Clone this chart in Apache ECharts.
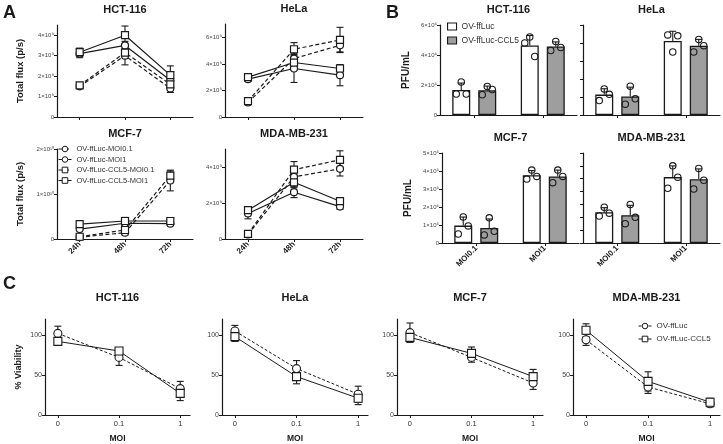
<!DOCTYPE html>
<html>
<head>
<meta charset="utf-8">
<script src="https://cdn.jsdelivr.net/npm/echarts@6/dist/echarts.min.js"></script>
<style>
  html, body { margin: 0; padding: 0; background: #fff; }
  #chart { width: 723px; height: 444px; }
</style>
</head>
<body>
<div id="chart"></div>
<script>
// ---------- data ----------
// A: total flux, units of 1e9 p/s; rows follow fluxSeries, columns follow hours
const hours = ['24h', '48h', '72h']
const fluxSeries = ['OV-ffLuc-MOI0.1', 'OV-ffLuc-MOI1', 'OV-ffLuc-CCL5-MOI0.1', 'OV-ffLuc-CCL5-MOI1']

const fluxHCT116 = [[1.5, 3.0, 1.4], [3.1, 3.5, 1.8], [1.55, 3.15, 1.6], [3.17, 4.0, 2.05]]
const fluxSdHCT116 = [[0.1, 0.45, 0.2], [0.2, 0.2, 0.2], [0.1, 0.2, 0.25], [0.2, 0.45, 0.45]]
const fluxHeLa = [[1.1, 4.4, 5.4], [2.85, 3.65, 3.15], [1.2, 5.1, 5.8], [3.0, 4.1, 3.65]]
const fluxSdHeLa = [[0.1, 0.4, 0.5], [0.15, 1.05, 0.8], [0.1, 0.5, 0.95], [0.15, 0.4, 0.2]]
const fluxMCF7 = [[0.4, 1.4, 13.0], [2.2, 3.5, 3.4], [0.5, 2.0, 14.1], [3.3, 4.0, 4.0]]
const fluxSdMCF7 = [[0.2, 0.5, 2.3], [0.3, 0.5, 0.3], [0.2, 0.5, 1.0], [0.3, 0.8, 0.3]]
const fluxMDA = [[0.25, 3.45, 3.9], [1.42, 2.6, 1.8], [0.28, 3.85, 4.4], [1.6, 3.15, 2.1]]
const fluxSdMDA = [[0.05, 0.4, 0.4], [0.3, 0.3, 0.15], [0.05, 0.45, 0.5], [0.15, 0.3, 0.15]]

// B: PFU/mL replicates, units of 1e6; [MOI0.1 reps, MOI1 reps]
const moiBar = ['MOI0.1', 'MOI1']
const virusNames = ['OV-ffLuc', 'OV-ffLuc-CCL5']

const pfuHCT116 = [[[2.2, 1.4, 1.4], [5.2, 4.8, 3.9]], [[1.9, 1.35, 1.7], [4.9, 4.3, 4.5]]]
const pfuHeLa = [[[1.45, 0.8, 1.15], [3.5, 4.45, 4.4]], [[1.6, 0.6, 0.9], [4.2, 3.5, 3.85]]]
const pfuMCF7 = [[[1.45, 0.5, 0.95], [4.05, 3.55, 3.7]], [[1.4, 0.45, 0.65], [4.05, 3.35, 3.7]]]
const pfuMDA = [[[1.39, 1.05, 1.16], [3.0, 2.13, 2.56]], [[1.5, 0.75, 1.0], [2.9, 2.1, 2.44]]]

// C: % viability; rows follow virusNames, columns follow moiLine
const moiLine = ['0', '0.1', '1']
const viabHCT116 = [[102, 72, 33], [92, 80, 27]]
const viabSdHCT116 = [[9, 10, 9], [5, 3, 9]]
const viabHeLa = [[105, 58, 26], [98, 48, 21]]
const viabSdHeLa = [[7, 10, 10], [6, 9, 8]]
const viabMCF7 = [[103, 72, 40], [97, 77, 48]]
const viabSdMCF7 = [[12, 6, 8], [6, 8, 9]]
const viabMDA = [[94, 35, 14], [106, 42, 16]]
const viabSdMDA = [[7, 8, 4], [8, 12, 5]]

// ---------- helpers ----------
const fontFamily = '"Liberation Sans", Arial, sans-serif'
const ink = '#1a1a1a'
const supDigits = { 0: '⁰', 1: '¹', 2: '²', 3: '³', 4: '⁴', 5: '⁵', 6: '⁶', 7: '⁷', 8: '⁸', 9: '⁹' }

const sciLabel = (v) => {
  if (v === 0) return '0'
  const e = Math.floor(Math.log10(v) + 1e-9)
  const m = Math.round(v / Math.pow(10, e))
  return m + '×10' + String(e).split('').map(c => supDigits[c]).join('')
}

const range = (from, to, step) => {
  const out = []
  for (let v = from; v <= to + step / 1000; v += step) out.push(+v.toPrecision(6))
  return out
}

const mean = arr => arr.reduce((a, b) => a + b, 0) / arr.length
const sdev = arr => {
  const m = mean(arr)
  return Math.sqrt(arr.reduce((a, b) => a + (b - m) * (b - m), 0) / (arr.length - 1))
}

const BAR_WIDTH = 18
const BAR_GAP = 8
const groupShift = g => (g === 0 ? -1 : 1) * (BAR_WIDTH + BAR_GAP) / 2
const jitter = [0, -5, 5]

const errorBar = (capWidth, upOnly, withGroup) => (params, api) => {
  const shift = withGroup ? groupShift(api.value(3)) : 0
  const m = api.value(1)
  const sd = api.value(2)
  const hi = api.coord([api.value(0), m + sd])
  const lo = api.coord([api.value(0), upOnly ? m : m - sd])
  const x = hi[0] + shift
  const style = { stroke: ink, lineWidth: 1.1, fill: null }
  const seg = (x1, y1, x2, y2) => ({ type: 'line', shape: { x1, y1, x2, y2 }, style })
  const children = [
    seg(x, hi[1], x, lo[1]),
    seg(x - capWidth / 2, hi[1], x + capWidth / 2, hi[1])
  ]
  if (!upOnly) children.push(seg(x - capWidth / 2, lo[1], x + capWidth / 2, lo[1]))
  return { type: 'group', children }
}

const replicateDot = (params, api) => {
  const p = api.coord([api.value(0), api.value(1)])
  return {
    type: 'circle',
    shape: { cx: p[0] + groupShift(api.value(2)) + jitter[api.value(3)], cy: p[1], r: 3.2 },
    style: { fill: 'none', stroke: ink, lineWidth: 1.1 }
  }
}

const grids = []
const xAxes = []
const yAxes = []
const series = []
const graphics = []

const addTitle = (text, rect, gap) => {
  graphics.push({
    type: 'text',
    x: rect.left + rect.width / 2,
    y: rect.top - gap,
    style: { text, fill: ink, font: 'bold 11px ' + fontFamily, textAlign: 'center', textVerticalAlign: 'middle' }
  })
}

const valueY = (gi, max, ticks, opts) => ({
  gridIndex: gi,
  type: 'value',
  min: 0,
  max,
  axisLine: { show: true, onZero: false, lineStyle: { color: ink, width: 1.2 } },
  axisTick: { show: true, length: 3, customValues: ticks, lineStyle: { color: ink, width: 1 } },
  axisLabel: {
    show: opts.labels !== false,
    customValues: ticks,
    formatter: opts.formatter || sciLabel,
    fontSize: opts.fontSize || 6,
    color: '#444',
    fontFamily,
    margin: 3
  },
  splitLine: { show: false },
  name: opts.name || '',
  nameLocation: 'middle',
  nameGap: opts.nameGap || 30,
  nameTextStyle: { fontWeight: 'bold', fontSize: opts.nameSize || 9.5, color: ink, fontFamily }
})

const categoryX = (gi, data, showLabels) => ({
  gridIndex: gi,
  type: 'category',
  data,
  boundaryGap: true,
  axisLine: { show: true, onZero: false, lineStyle: { color: ink, width: 1.2 } },
  axisTick: { show: true, alignWithLabel: true, length: 3, lineStyle: { color: ink } },
  axisLabel: showLabels
    ? { rotate: 45, fontSize: 8, fontWeight: 'bold', color: ink, fontFamily, margin: 4, interval: 0 }
    : { show: false },
  splitLine: { show: false }
})

// ---------- A: bioluminescence ----------
const fluxPanels = [
  { title: 'HCT-116', mean: fluxHCT116, sd: fluxSdHCT116, max: 4.5e9, ticks: range(0, 4e9, 1e9), rect: { left: 57, top: 25, width: 136, height: 92 }, yName: true, xLabels: false },
  { title: 'HeLa', mean: fluxHeLa, sd: fluxSdHeLa, max: 7e9, ticks: range(0, 6e9, 2e9), rect: { left: 225, top: 24, width: 138, height: 93 }, yName: false, xLabels: false },
  { title: 'MCF-7', mean: fluxMCF7, sd: fluxSdMCF7, max: 2e10, ticks: range(0, 2e10, 1e10), rect: { left: 57, top: 149, width: 136, height: 90 }, yName: true, xLabels: true },
  { title: 'MDA-MB-231', mean: fluxMDA, sd: fluxSdMDA, max: 5e9, ticks: range(0, 4e9, 2e9), rect: { left: 225, top: 149, width: 138, height: 90 }, yName: false, xLabels: true }
]

fluxPanels.forEach(p => {
  grids.push({ ...p.rect, outerBoundsMode: 'none' })
  const gi = grids.length - 1
  xAxes.push(categoryX(gi, hours, p.xLabels))
  yAxes.push(valueY(gi, p.max, p.ticks, { name: p.yName ? 'Total flux (p/s)' : '', nameGap: 32 }))
  const ai = xAxes.length - 1
  addTitle(p.title, p.rect, 15)

  const errData = []
  p.mean.forEach((row, i) => row.forEach((v, j) => errData.push([j, v * 1e9, p.sd[i][j] * 1e9])))
  series.push({
    type: 'custom', xAxisIndex: ai, yAxisIndex: ai, silent: true, z: 1,
    renderItem: errorBar(7, false, false), data: errData
  })
  fluxSeries.forEach((name, i) => {
    series.push({
      type: 'line', name, xAxisIndex: ai, yAxisIndex: ai, z: 2,
      data: p.mean[i].map(v => v * 1e9),
      symbol: i < 2 ? 'circle' : 'rect',
      symbolSize: 7,
      lineStyle: { color: ink, width: 1.2, type: i % 2 === 0 ? [4, 2.5] : 'solid' },
      itemStyle: { color: '#fff', borderColor: ink, borderWidth: 1.2 }
    })
  })
})

// ---------- B: virus titer ----------
const pfuPanels = [
  { title: 'HCT-116', reps: pfuHCT116, max: 6e6, ticks: range(0, 6e6, 2e6), labels: true, rect: { left: 440, top: 25, width: 137, height: 90 }, yName: true, xLabels: false },
  { title: 'HeLa', reps: pfuHeLa, max: 5e6, ticks: range(0, 5e6, 1e6), labels: false, rect: { left: 583, top: 25, width: 137, height: 90 }, yName: false, xLabels: false },
  { title: 'MCF-7', reps: pfuMCF7, max: 5e6, ticks: range(0, 5e6, 1e6), labels: true, rect: { left: 442, top: 153, width: 137, height: 90 }, yName: true, xLabels: true },
  { title: 'MDA-MB-231', reps: pfuMDA, max: 3.5e6, ticks: range(0, 3.5e6, 0.5e6), labels: false, rect: { left: 583, top: 153, width: 137, height: 90 }, yName: false, xLabels: true }
]

pfuPanels.forEach(p => {
  grids.push({ ...p.rect, outerBoundsMode: 'none' })
  const gi = grids.length - 1
  xAxes.push(categoryX(gi, moiBar, p.xLabels))
  yAxes.push(valueY(gi, p.max, p.ticks, { labels: p.labels, name: p.yName ? 'PFU/mL' : '', nameGap: 29, nameSize: 10 }))
  const ai = xAxes.length - 1
  addTitle(p.title, p.rect, 15)

  const errData = []
  const dotData = []
  p.reps.forEach((virus, g) => {
    series.push({
      type: 'bar', name: virusNames[g], xAxisIndex: ai, yAxisIndex: ai, z: 2,
      barWidth: BAR_WIDTH, barGap: (BAR_GAP / BAR_WIDTH * 100) + '%',
      data: virus.map(r => mean(r) * 1e6),
      itemStyle: { color: g === 0 ? '#fff' : '#9e9e9e', borderColor: ink, borderWidth: 1.3 }
    })
    virus.forEach((r, j) => {
      errData.push([j, mean(r) * 1e6, sdev(r) * 1e6, g])
      r.forEach((v, k) => dotData.push([j, v * 1e6, g, k]))
    })
  })
  series.push({
    type: 'custom', xAxisIndex: ai, yAxisIndex: ai, silent: true, z: 3,
    renderItem: errorBar(7, true, true), data: errData
  })
  series.push({
    type: 'custom', xAxisIndex: ai, yAxisIndex: ai, silent: true, z: 4,
    renderItem: replicateDot, data: dotData
  })
})

// ---------- C: viability ----------
const viabPanels = [
  { title: 'HCT-116', mean: viabHCT116, sd: viabSdHCT116, rect: { left: 45, top: 319, width: 145, height: 96 }, yName: true },
  { title: 'HeLa', mean: viabHeLa, sd: viabSdHeLa, rect: { left: 222, top: 319, width: 146, height: 96 }, yName: false },
  { title: 'MCF-7', mean: viabMCF7, sd: viabSdMCF7, rect: { left: 397, top: 319, width: 146, height: 96 }, yName: false },
  { title: 'MDA-MB-231', mean: viabMDA, sd: viabSdMDA, rect: { left: 573, top: 319, width: 147, height: 96 }, yName: false }
]
const moiIdx = moiLine.map((m, i) => i)

viabPanels.forEach(p => {
  grids.push({ ...p.rect, outerBoundsMode: 'none' })
  const gi = grids.length - 1
  xAxes.push({
    gridIndex: gi,
    type: 'value',
    min: -0.21,
    max: 2.16,
    axisLine: { show: true, onZero: false, lineStyle: { color: ink, width: 1.2 } },
    axisTick: { show: true, length: 3, customValues: moiIdx, lineStyle: { color: ink } },
    axisLabel: { customValues: moiIdx, formatter: v => moiLine[v], fontSize: 7.5, color: '#333', fontFamily, margin: 5 },
    splitLine: { show: false },
    name: 'MOI',
    nameLocation: 'middle',
    nameGap: 19,
    nameTextStyle: { fontWeight: 'bold', fontSize: 8.5, color: ink, fontFamily }
  })
  yAxes.push(valueY(gi, 120, [0, 50, 100], {
    formatter: v => String(v), fontSize: 7,
    name: p.yName ? '% Viability' : '', nameGap: 22, nameSize: 9
  }))
  const ai = xAxes.length - 1
  addTitle(p.title, p.rect, 21)

  const errData = []
  p.mean.forEach((row, i) => row.forEach((v, j) => errData.push([j, v, p.sd[i][j]])))
  series.push({
    type: 'custom', xAxisIndex: ai, yAxisIndex: ai, silent: true, z: 1,
    renderItem: errorBar(7, false, false), data: errData
  })
  virusNames.forEach((name, i) => {
    series.push({
      type: 'line', name: 'viab:' + name, xAxisIndex: ai, yAxisIndex: ai, z: 2,
      data: p.mean[i].map((v, j) => [j, v]),
      symbol: i === 0 ? 'circle' : 'rect',
      symbolSize: 8,
      lineStyle: { color: ink, width: 1, type: i === 0 ? [3, 2] : 'solid' },
      itemStyle: { color: '#fff', borderColor: ink, borderWidth: 1.1 }
    })
  })
})

// panel letters
;[['A', 3, 13], ['B', 386, 13], ['C', 3, 284]].forEach(([t, x, y]) => {
  graphics.push({
    type: 'text', x, y,
    style: { text: t, fill: ink, font: 'bold 18px ' + fontFamily, textVerticalAlign: 'middle' }
  })
})

// hollow marker + thin line for the line-series legends
const lineLegendStyle = {
  itemStyle: { color: '#fff', borderColor: ink, borderWidth: 1 },
  lineStyle: { color: ink, width: 1 }
}

const option = {
  animation: false,
  backgroundColor: '#fff',
  grid: grids,
  xAxis: xAxes,
  yAxis: yAxes,
  legend: [
    {
      data: fluxSeries, orient: 'vertical', left: 58, top: 145, padding: 0,
      itemWidth: 13, itemHeight: 7, itemGap: 2.5, selectedMode: false,
      ...lineLegendStyle,
      textStyle: { fontSize: 7.5, color: '#333', fontFamily, lineHeight: 8 }
    },
    {
      data: virusNames, orient: 'vertical', left: 447, top: 22, padding: 0,
      itemWidth: 9, itemHeight: 7, itemGap: 5, selectedMode: false, icon: 'rect',
      itemStyle: { borderColor: ink, borderWidth: 1.1 },
      textStyle: { fontSize: 8.5, color: '#333', fontFamily }
    },
    {
      data: virusNames.map(n => 'viab:' + n), orient: 'vertical', left: 638, top: 322, padding: 0,
      itemWidth: 13, itemHeight: 7, itemGap: 5, selectedMode: false,
      ...lineLegendStyle,
      formatter: n => n.split(':')[1],
      textStyle: { fontSize: 8, color: '#333', fontFamily }
    }
  ],
  graphic: graphics,
  series
}

const chart = echarts.init(document.getElementById('chart'))
chart.setOption(option)
</script>
</body>
</html>
